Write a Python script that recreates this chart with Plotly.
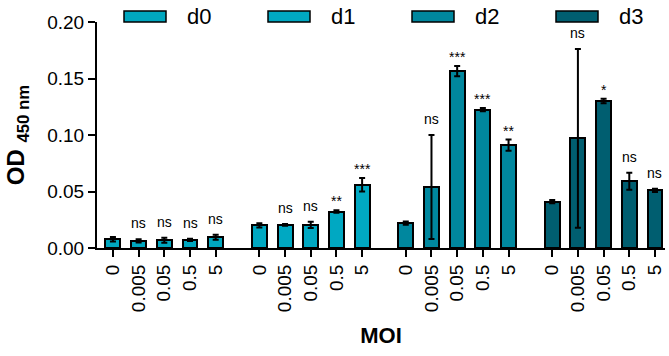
import plotly.graph_objects as go

groups = ["d0", "d1", "d2", "d3"]
moi = ["0", "0.005", "0.05", "0.5", "5"]

d0_mean = [0.0077, 0.0063, 0.0069, 0.0072, 0.0096]
d0_err = [0.0020, 0.0015, 0.0022, 0.0010, 0.0022]
d1_mean = [0.0200, 0.0205, 0.0205, 0.0323, 0.0560]
d1_err = [0.0018, 0.0008, 0.0028, 0.0010, 0.0060]
d2_mean = [0.0220, 0.0540, 0.1565, 0.1225, 0.0910]
d2_err = [0.0015, 0.0460, 0.0045, 0.0015, 0.0050]
d3_mean = [0.0410, 0.0970, 0.1300, 0.0590, 0.0510]
d3_err = [0.0015, 0.0790, 0.0020, 0.0075, 0.0015]

d0_sig = ["", "ns", "ns", "ns", "ns"]
d1_sig = ["", "ns", "ns", "**", "***"]
d2_sig = ["", "ns", "***", "***", "**"]
d3_sig = ["", "ns", "*", "ns", "ns"]

means = [d0_mean, d1_mean, d2_mean, d3_mean]
errs = [d0_err, d1_err, d2_err, d3_err]
sigs = [d0_sig, d1_sig, d2_sig, d3_sig]
colors = ["#00A7BF", "#00A8C2", "#00879E", "#005E70"]

FONT = "Arial, Liberation Sans, sans-serif"
GROUP_STEP = 5.7

# plot area in pixels (for the hand-drawn wide legend swatches)
L, R, T, B = 97, 4, 22, 108
W, H = 669, 356
PW, PH = W - L - R, H - T - B


def px_to_paper_x(px):
    return (px - L) / PW


def px_to_paper_y(py):
    return (H - B - py) / PH


fig = go.Figure()
tickvals, ticktext = [], []
annotations = []
for g, name in enumerate(groups):
    xs = [g * GROUP_STEP + i for i in range(len(moi))]
    tickvals += xs
    ticktext += moi
    fig.add_trace(go.Bar(
        x=xs, y=means[g], name=name, width=0.58,
        marker=dict(color=colors[g], line=dict(color="black", width=2)),
        error_y=dict(type="data", array=errs[g], visible=True,
                     color="black", thickness=2, width=3),
        showlegend=False,
    ))
    for i, lab in enumerate(sigs[g]):
        if not lab:
            continue
        top = means[g][i] + errs[g][i]
        annotations.append(dict(
            x=xs[i], y=top, xref="x", yref="y", text=lab, showarrow=False,
            yanchor="bottom", xanchor="center",
            yshift=6 if lab == "ns" else -1,
            font=dict(family=FONT, size=14, color="black"),
        ))

# wide legend swatches
legend_px = [124, 268, 412, 556]
shapes = []
for g, name in enumerate(groups):
    x0 = legend_px[g]
    shapes.append(dict(
        type="rect", xref="paper", yref="paper",
        x0=px_to_paper_x(x0), x1=px_to_paper_x(x0 + 42),
        y0=px_to_paper_y(22), y1=px_to_paper_y(11),
        fillcolor=colors[g], line=dict(color="black", width=1.5),
    ))
    annotations.append(dict(
        x=px_to_paper_x(x0 + 61), y=px_to_paper_y(16.5), xref="paper", yref="paper",
        text=name, showarrow=False, xanchor="left", yanchor="middle",
        font=dict(family=FONT, size=22, color="black"),
    ))

fig.update_layout(
    width=W, height=H,
    margin=dict(l=L, r=R, t=T, b=B, autoexpand=False),
    paper_bgcolor="white", plot_bgcolor="white",
    font=dict(family=FONT, color="black"),
    bargap=0,
    annotations=annotations,
    shapes=shapes,
    xaxis=dict(
        range=[-0.62, 21.49], tickmode="array", tickvals=tickvals, ticktext=ticktext,
        tickangle=-90, ticks="outside", ticklen=7, tickwidth=2, tickcolor="black",
        showline=True, linewidth=2, linecolor="black", showgrid=False, zeroline=False,
        tickfont=dict(family=FONT, size=19, color="black"),
        title=dict(text="<b>MOI</b>", font=dict(family=FONT, size=22, color="black"), standoff=16),
    ),
    yaxis=dict(
        range=[0, 0.2], tickmode="array", tickvals=[0, 0.05, 0.10, 0.15, 0.20],
        tickformat=".2f", ticks="outside", ticklen=7, tickwidth=2, tickcolor="black",
        showline=True, linewidth=2, linecolor="black", showgrid=False, zeroline=False,
        tickfont=dict(family=FONT, size=19, color="black"),
        title=dict(text="<b>OD <sub>450 nm</sub></b>", font=dict(family=FONT, size=24, color="black"), standoff=16),
    ),
)

fig.write_html(
    "out.html",
    config={"displayModeBar": False},
    post_script="document.body.style.margin='0';document.body.style.overflow='hidden';",
)
